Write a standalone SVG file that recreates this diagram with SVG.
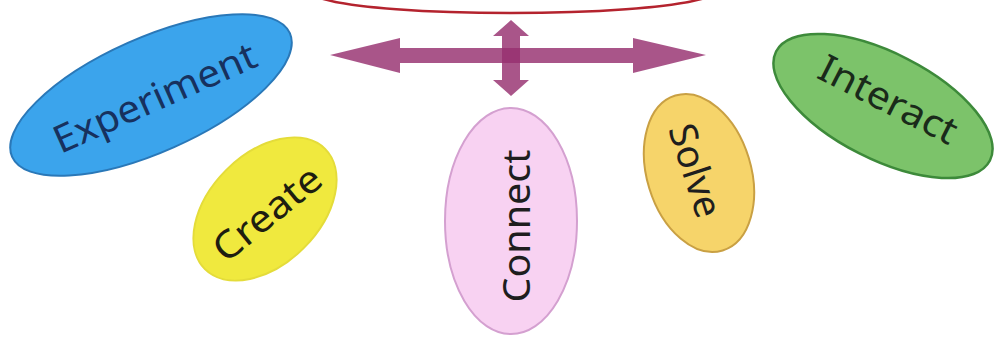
<svg xmlns="http://www.w3.org/2000/svg" width="995" height="338" viewBox="0 0 995 338">
<style>
  .lbl { font-family: "Noto Sans", "Open Sans", sans-serif; font-size: 38px; text-anchor: middle; dominant-baseline: central; }
  .arrow { fill: #96306f; fill-opacity: 0.82; }
</style>
<rect width="995" height="338" fill="#ffffff"/>
<g id="top-arc">
  <path d="M 320 -2 C 380 18, 640 18, 705 -2" fill="none" stroke="#b4232e" stroke-width="2.5"/>
</g>
<g id="connectors">
  <polygon class="arrow" points="330,55 400,38 400,48 633,48 633,38 706,55 633,73 633,63 400,63 400,73"/>
  <polygon class="arrow" points="511,20 529,36 520,36 520,80 529,80 511,96 493,80 502,80 502,36 493,36"/>
</g>
<g id="experiment">
  <ellipse cx="151" cy="95" rx="152" ry="57" transform="rotate(-24 151 95)" fill="#3ba4ec" stroke="#2a78b8" stroke-width="2"/>
  <text class="lbl" x="154" y="96" fill="#17315e" transform="rotate(-24 154 96)" textLength="218" lengthAdjust="spacingAndGlyphs">Experiment</text>
</g>
<g id="create">
  <ellipse cx="265" cy="209" rx="85" ry="55" transform="rotate(-45 265 209)" fill="#f0e93e" stroke="#e4dc3a" stroke-width="2"/>
  <text class="lbl" x="266" y="212" fill="#1e1e10" transform="rotate(-39 266 212)" textLength="128" lengthAdjust="spacingAndGlyphs">Create</text>
</g>
<g id="connect">
  <ellipse cx="511" cy="221" rx="66" ry="113" fill="#f8d2f2" stroke="#d4a0d0" stroke-width="2"/>
  <text class="lbl" x="515" y="226" fill="#1e1e1e" transform="rotate(-90 515 226)" textLength="153" lengthAdjust="spacingAndGlyphs">Connect</text>
</g>
<g id="solve">
  <ellipse cx="699" cy="173" rx="52" ry="81" transform="rotate(-17 699 173)" fill="#f6d46a" stroke="#c9a043" stroke-width="2"/>
  <text class="lbl" x="697" y="170" fill="#1e1e1e" transform="rotate(72 697 170)" textLength="96" lengthAdjust="spacingAndGlyphs">Solve</text>
</g>
<g id="interact">
  <ellipse cx="883" cy="106" rx="120" ry="53" transform="rotate(27 883 106)" fill="#7cc36a" stroke="#3d8a3a" stroke-width="2.5"/>
  <text class="lbl" x="889" y="98" fill="#1a2a1a" transform="rotate(27 889 98)" textLength="150" lengthAdjust="spacingAndGlyphs">Interact</text>
</g>
</svg>
